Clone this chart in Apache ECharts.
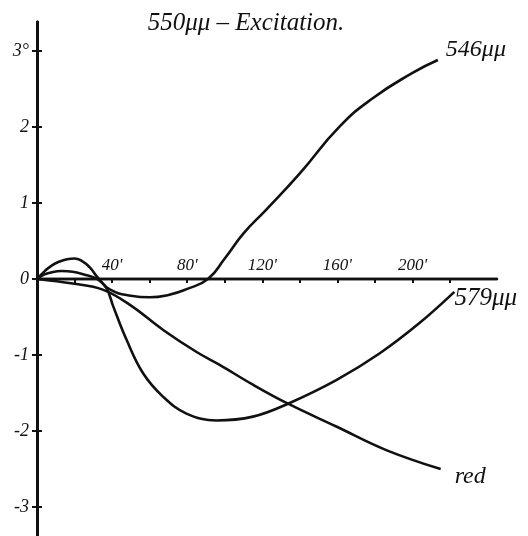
<!DOCTYPE html>
<html>
<head>
<meta charset="utf-8">
<script src="https://cdn.jsdelivr.net/npm/echarts@6/dist/echarts.min.js"></script>
<style>html,body{margin:0;padding:0;background:#fff;}#c{width:528px;height:536px;}</style>
</head>
<body>
<div id="c"></div>
<script>
// time (seconds) and excitation values
var t546 = [0, 4, 8, 12, 16, 20, 24, 28, 33, 39, 50, 60, 70, 80, 91, 100, 110, 122, 140, 161, 179, 200, 213.5];
var v546 = [0, 0.10, 0.18, 0.23, 0.26, 0.27, 0.235, 0.155, 0, -0.14, -0.22, -0.24, -0.21, -0.13, 0, 0.27, 0.60, 0.91, 1.39, 2.0, 2.38, 2.71, 2.88];
var t579 = [0, 4, 8, 13, 19, 25, 32, 37, 40.6, 47.7, 56.5, 67.2, 79.6, 95.6, 115, 133.7, 159.4, 182.4, 203.7, 222.3];
var v579 = [0, 0.06, 0.09, 0.105, 0.095, 0.06, 0, -0.12, -0.36, -0.80, -1.24, -1.55, -1.77, -1.86, -1.81, -1.64, -1.33, -0.98, -0.58, -0.17];
var tRed = [0, 19, 35, 49.5, 67.2, 85, 97.3, 115, 133.7, 159.4, 186, 215];
var vRed = [0, -0.06, -0.14, -0.34, -0.67, -0.96, -1.13, -1.39, -1.64, -1.94, -2.25, -2.50];
var seriesNames = ['546μμ', '579μμ', 'red'];
var xTicks = [0, 20, 40, 60, 80, 100, 120, 140, 160, 180, 200, 220];
var xLabels = [40, 80, 120, 160, 200];
var yTicks = [-3, -2, -1, 0, 1, 2, 3];
var titleText = '550μμ – Excitation.';

function pairs(t, v) { return t.map(function (x, i) { return [x, v[i]]; }); }

var FONT = 'Liberation Serif';
var lineStyle = { color: '#111', width: 2.6 };
var GRID_TOP = 22, GRID_H = 514, YMIN = -3.38, YMAX = 3.38;
var zeroOffset = -(GRID_H * YMAX / (YMAX - YMIN)); // move a top axis down onto y = 0

var chart = echarts.init(document.getElementById('c'), null, { renderer: 'canvas' });
chart.setOption({
  animation: false,
  backgroundColor: '#fff',
  title: {
    text: titleText, left: 241, top: 6, textAlign: 'center',
    textStyle: { fontFamily: FONT, fontStyle: 'italic', fontWeight: 'normal', fontSize: 25, color: '#111' }
  },
  grid: { left: 37, top: GRID_TOP, right: 31, height: GRID_H, containLabel: false },
  xAxis: [{
    type: 'value', min: 0, max: 245, interval: 20,
    splitLine: { show: false },
    axisLine: { onZero: true, onZeroAxisIndex: 0, lineStyle: { color: '#111', width: 2.4 } },
    axisTick: { show: true, inside: false, length: 4, customValues: xTicks, lineStyle: { color: '#111', width: 2 } },
    axisLabel: { show: false }
  }, {
    type: 'value', min: 0, max: 245, interval: 20,
    splitLine: { show: false },
    axisLine: { onZero: true, onZeroAxisIndex: 1, lineStyle: { color: '#111', width: 2.4 } },
    axisTick: { show: true, inside: true, length: 4, customValues: xTicks, lineStyle: { color: '#111', width: 2 } },
    axisLabel: { show: false }
  }, {
    type: 'value', min: 0, max: 245, interval: 20, position: 'top', offset: zeroOffset,
    splitLine: { show: false },
    axisLine: { show: false, onZero: false },
    axisTick: { show: false },
    axisLabel: {
      margin: 5, customValues: xLabels,
      formatter: function (v) { return v + "'"; },
      fontFamily: FONT, fontStyle: 'italic', fontSize: 17, color: '#111'
    }
  }],
  yAxis: [{
    type: 'value', min: YMIN, max: YMAX, interval: 1,
    splitLine: { show: false },
    axisLine: { onZero: false, lineStyle: { color: '#111', width: 3 } },
    axisTick: { show: true, inside: false, length: 5, customValues: yTicks, lineStyle: { color: '#111', width: 2 } },
    axisLabel: {
      margin: 8, customValues: yTicks,
      formatter: function (v) { return v === 3 ? '3°' : String(v); },
      fontFamily: FONT, fontStyle: 'italic', fontSize: 18, color: '#111'
    }
  }, {
    type: 'value', min: YMIN, max: YMAX, interval: 1, position: 'left',
    splitLine: { show: false },
    axisLine: { onZero: false, lineStyle: { color: '#111', width: 3 } },
    axisTick: { show: true, inside: true, length: 5, customValues: yTicks, lineStyle: { color: '#111', width: 2 } },
    axisLabel: { show: false }
  }],
  series: [{
    name: seriesNames[0], type: 'line', data: pairs(t546, v546), smooth: 0.5,
    showSymbol: false, lineStyle: lineStyle,
    endLabel: { show: true, formatter: seriesNames[0], distance: 8, offset: [0, -10],
      fontFamily: FONT, fontStyle: 'italic', fontSize: 24, color: '#111' }
  }, {
    name: seriesNames[1], type: 'line', data: pairs(t579, v579), smooth: 0.4,
    showSymbol: false, lineStyle: lineStyle,
    endLabel: { show: true, formatter: seriesNames[1], distance: 4, offset: [-4, 6],
      fontFamily: FONT, fontStyle: 'italic', fontSize: 25, color: '#111' }
  }, {
    name: seriesNames[2], type: 'line', data: pairs(tRed, vRed), smooth: 0.4,
    showSymbol: false, lineStyle: lineStyle,
    endLabel: { show: true, formatter: seriesNames[2], distance: 14, offset: [0, 8],
      fontFamily: FONT, fontStyle: 'italic', fontSize: 24, color: '#111' }
  }]
});
</script>
</body>
</html>
